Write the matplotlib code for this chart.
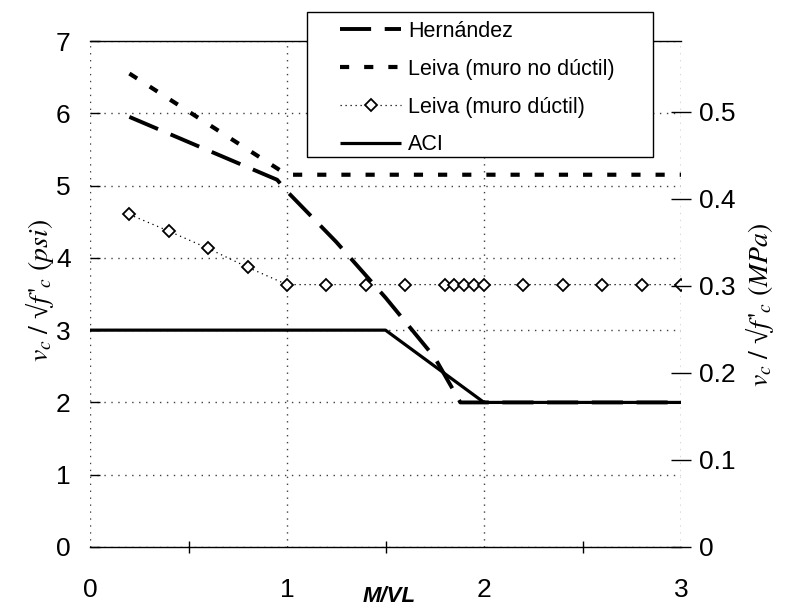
import matplotlib
matplotlib.use("Agg")
import matplotlib.pyplot as plt
from matplotlib.patches import Rectangle
from matplotlib.ticker import MultipleLocator

plt.rcParams["font.family"] = ["Liberation Sans", "DejaVu Sans"]
plt.rcParams["mathtext.fontset"] = "stix"

# M/VL ratio and normalized shear strength v_c / sqrt(f'c) in psi units
hernandez_x = [0.2, 0.95, 1.0, 1.25, 1.5, 1.75, 1.88, 2.0, 3.0]
hernandez_y = [5.95, 5.08, 4.92, 4.22, 3.45, 2.62, 2.0, 2.0, 2.0]

leiva_nd_x = [0.2, 1.0, 3.0]
leiva_nd_y = [6.55, 5.15, 5.15]

leiva_d_x = [0.2, 0.4, 0.6, 0.8, 1.0, 1.2, 1.4, 1.6, 1.8, 1.85, 1.9, 1.95, 2.0,
             2.2, 2.4, 2.6, 2.8, 3.0]
leiva_d_y = [4.6, 4.37, 4.13, 3.87, 3.63, 3.63, 3.63, 3.63, 3.63, 3.63, 3.63,
             3.63, 3.63, 3.63, 3.63, 3.63, 3.63, 3.63]

aci_x = [0.0, 1.5, 2.0, 3.0]
aci_y = [3.0, 3.0, 2.0, 2.0]

series_labels = ["Hernández", "Leiva (muro no dúctil)", "Leiva (muro dúctil)", "ACI"]

psi_ticks = [0, 1, 2, 3, 4, 5, 6, 7]
mpa_ticks = [0, 0.1, 0.2, 0.3, 0.4, 0.5]
x_ticks = [0, 1, 2, 3]
psi_to_mpa = 0.083

W, H = 785, 608
fig = plt.figure(figsize=(W / 100, H / 100), dpi=100)
ax = fig.add_axes([90 / W, 1 - 547 / H, (681 - 90) / W, (547 - 41) / H])

l_h, = ax.plot(hernandez_x, hernandez_y, color="black", lw=2.8,
               linestyle=(0, (8, 3.5)), dash_capstyle="butt", label=series_labels[0])
l_nd, = ax.plot(leiva_nd_x, leiva_nd_y, color="black", lw=3.0,
                linestyle=(0, (2.2, 3.6)), dash_capstyle="butt", label=series_labels[1])
l_d, = ax.plot(leiva_d_x, leiva_d_y, color="black", lw=0.9, linestyle=(0, (1, 3)),
               marker="D", markersize=6.5, markerfacecolor="white",
               markeredgecolor="black", markeredgewidth=1.3, label=series_labels[2])
l_aci, = ax.plot(aci_x, aci_y, color="black", lw=2.3, solid_capstyle="butt",
                 label=series_labels[3])

ax.set_xlim(0, 3)
ax.set_ylim(0, 7)
ax.set_xticks(x_ticks)
ax.set_xticklabels([str(v) for v in x_ticks])
ax.xaxis.set_minor_locator(MultipleLocator(0.5))
ax.set_yticks(psi_ticks)
ax.set_yticklabels([str(v) for v in psi_ticks])

ax.grid(True, which="major", color="0.25", linestyle=(0, (1, 4)), linewidth=1.0)
ax.set_axisbelow(True)

for side in ("left", "right"):
    ax.spines[side].set_visible(False)
ax.spines["top"].set_linewidth(1.0)
ax.spines["bottom"].set_linewidth(1.0)

ax.tick_params(axis="y", direction="in", length=7, width=1.0, labelsize=19, pad=14,
               right=False)
ax.tick_params(axis="x", which="major", direction="inout", length=0, labelsize=19, pad=22,
               top=False)
ax.tick_params(axis="x", which="minor", direction="inout", length=8, width=1.0, top=False)

ax2 = ax.twinx()
ax2.set_ylim(0, 7 * psi_to_mpa)
ax2.set_yticks(mpa_ticks)
ax2.set_yticklabels(["0" if v == 0 else f"{v:.1f}" for v in mpa_ticks])
for side in ("left", "right", "top", "bottom"):
    ax2.spines[side].set_visible(False)
ax2.tick_params(axis="y", direction="inout", length=14, width=1.0, labelsize=19, pad=6)

fig.text(40 / W, 1 - 290 / H, r"$v_c\ /\ $√$f\,'_c\ (psi)$", rotation=90,
         ha="center", va="center", fontsize=20,
         family=["Liberation Serif", "DejaVu Serif"])
fig.text(760 / W, 1 - 305 / H, r"$v_c\ /\ $√$f\,'_c\ (MPa)$", rotation=90,
         ha="center", va="center", fontsize=20,
         family=["Liberation Serif", "DejaVu Serif"])
fig.text(389 / W, 1 - 597 / H, "M/VL", ha="center", va="center",
         fontsize=16, fontweight="bold", fontstyle="italic")

# legend box drawn as a white framed rectangle over the plot
box = Rectangle((307 / W, 1 - 157 / H), (653 - 307) / W, (157 - 12) / H,
                transform=fig.transFigure, facecolor="white", edgecolor="black",
                linewidth=1.0, zorder=4.9)
fig.add_artist(box)

leg = fig.legend(handles=[l_h, l_nd, l_d, l_aci],
                 loc="upper left",
                 bbox_to_anchor=(340 / W, 1 - 21 / H),
                 fontsize=15.5, handlelength=2.85, handletextpad=0.3,
                 borderpad=0.0, labelspacing=0.78, borderaxespad=0.0,
                 frameon=False)
leg.set_zorder(6)

fig.savefig("out.png", dpi=100)
